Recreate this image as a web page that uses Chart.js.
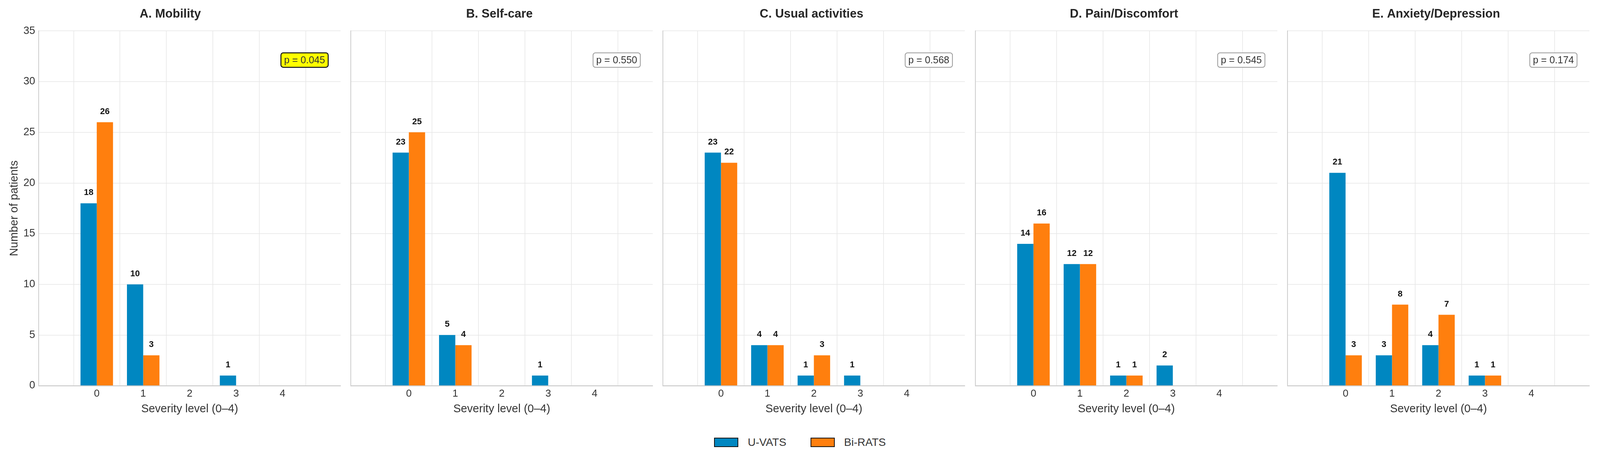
<!DOCTYPE html>
<html>
<head>
<meta charset="utf-8">
<script src="https://cdn.jsdelivr.net/npm/chart.js@4.4.1/dist/chart.umd.min.js"></script>
<style>
  html, body { margin: 0; padding: 0; background: #fff; }
  body { position: relative; overflow: hidden; font-family: "Liberation Sans", Arial, sans-serif; }
  .panel { position: absolute; top: 0; }
  #legend { position: absolute; top: 1116px; left: 0; display: flex;
            justify-content: center; align-items: center; font-size: 28px; color: #333; }
  .item { display: flex; align-items: center; margin: 0 31px; }
  .sw { width: 58px; height: 20px; border: 2px solid #111; margin-right: 24px; }
</style>
</head>
<body>
<div id="legend">
  <div class="item"><div class="sw" style="background:#0087c1"></div>U-VATS</div>
  <div class="item"><div class="sw" style="background:#ff7f0e"></div>Bi-RATS</div>
</div>
<script>
const severity = [0, 1, 2, 3, 4];
const panelTitles = ["A. Mobility", "B. Self-care", "C. Usual activities", "D. Pain/Discomfort", "E. Anxiety/Depression"];
const uvats = [
  [18, 10, 0, 1, 0],
  [23, 5, 0, 1, 0],
  [23, 4, 1, 1, 0],
  [14, 12, 1, 2, 0],
  [21, 3, 4, 1, 0]
];
const birats = [
  [26, 3, 0, 0, 0],
  [25, 4, 0, 0, 0],
  [22, 4, 3, 0, 0],
  [16, 12, 1, 0, 0],
  [3, 8, 7, 1, 0]
];
const pValues = ["0.045", "0.550", "0.568", "0.545", "0.174"];

const FONT = '"Liberation Sans", Arial, sans-serif';
// the window may be narrower than the 4382 px design, so spread the panels over what we get
const W = window.innerWidth || 4382;
const sx = W / 4382;
document.body.style.width = W + "px";
document.body.style.height = "1172px";
document.getElementById("legend").style.width = W + "px";

const panelLeft = [106, 961, 1816, 2671, 3526].map(v => v * sx);
const plotW = 827 * sx;

// numbers above the bars
const valueLabels = {
  id: "valueLabels",
  afterDatasetsDraw(chart) {
    const ctx = chart.ctx;
    ctx.save();
    ctx.font = "bold 22px " + FONT;
    ctx.fillStyle = "#111";
    ctx.textAlign = "center";
    ctx.textBaseline = "middle";
    chart.data.datasets.forEach((ds, di) => {
      chart.getDatasetMeta(di).data.forEach((bar, k) => {
        const v = ds.data[k].y;
        if (v > 0) ctx.fillText(String(v), bar.x, bar.y - 27);
      });
    });
    ctx.restore();
  }
};

// p-value box in the top right corner
const pBox = {
  id: "pBox",
  afterDraw(chart, args, opts) {
    const { ctx, chartArea } = chart;
    ctx.save();
    ctx.font = "25px " + FONT;
    const tw = ctx.measureText(opts.text).width;
    const w = tw + 16, h = 37;
    const x = chartArea.right - 34 * sx - w, y = chartArea.top + 56;
    ctx.beginPath();
    ctx.roundRect(x, y, w, h, 6);
    ctx.fillStyle = opts.highlight ? "#ffff00" : "#ffffff";
    ctx.fill();
    ctx.lineWidth = opts.highlight ? 2.5 : 2;
    ctx.strokeStyle = opts.highlight ? "#111" : "#999";
    ctx.stroke();
    ctx.fillStyle = "#333";
    ctx.textAlign = "center";
    ctx.textBaseline = "middle";
    ctx.fillText(opts.text, x + w / 2, y + h / 2 + 1);
    ctx.restore();
  }
};

panelTitles.forEach((title, i) => {
  const first = i === 0;
  const axisW = first ? 106 * sx : 12;
  const w = Math.round(axisW * 2 + plotW);
  const wrap = document.createElement("div");
  wrap.className = "panel";
  wrap.style.left = (panelLeft[i] - axisW) + "px";
  wrap.style.zIndex = 10 - i;
  const canvas = document.createElement("canvas");
  canvas.width = w;
  canvas.height = 1080;
  canvas.style.width = w + "px";
  canvas.style.height = "1080px";
  wrap.appendChild(canvas);
  document.body.appendChild(wrap);

  new Chart(canvas, {
    type: "bar",
    data: {
      datasets: [
        {
          label: "U-VATS",
          data: severity.map((s, k) => ({ x: s, y: uvats[i][k] })),
          backgroundColor: "#0087c1",
          categoryPercentage: 0.7,
          barPercentage: 1.0
        },
        {
          label: "Bi-RATS",
          data: severity.map((s, k) => ({ x: s, y: birats[i][k] })),
          backgroundColor: "#ff7f0e",
          categoryPercentage: 0.7,
          barPercentage: 1.0
        }
      ]
    },
    options: {
      responsive: false,
      animation: false,
      devicePixelRatio: 1,
      layout: { padding: { left: 0, right: axisW, top: 0, bottom: 0 } },
      plugins: {
        legend: { display: false },
        tooltip: { enabled: false },
        title: {
          display: true,
          text: title,
          color: "#262626",
          font: { size: 31, weight: "bold", family: FONT },
          padding: { top: 18, bottom: 24 }
        },
        pBox: { text: "p = " + pValues[i], highlight: parseFloat(pValues[i]) < 0.05 }
      },
      scales: {
        x: {
          type: "linear",
          min: -0.6,
          max: 4.6,
          afterBuildTicks: (scale) => { scale.ticks = severity.map(v => ({ value: v })); },
          afterFit: (scale) => { scale.height = 93; },
          grid: { color: "#e6e6e6", lineWidth: 1.5, drawTicks: false },
          border: { display: true, color: "#cccccc", width: 2.5 },
          ticks: { color: "#333", padding: 5, font: { size: 26, family: FONT } },
          title: {
            display: true,
            text: "Severity level (0–4)",
            color: "#333",
            font: { size: 29, family: FONT },
            padding: { top: 4, bottom: 16 }
          }
        },
        y: {
          min: 0,
          max: 35,
          afterFit: (scale) => { scale.width = axisW; },
          grid: { color: "#e6e6e6", lineWidth: 1.5, drawTicks: false },
          border: { display: true, color: "#cccccc", width: 2 },
          ticks: { display: first, stepSize: 5, color: "#333", padding: 9, font: { size: 27, family: FONT } },
          title: {
            display: first,
            text: "Number of patients",
            color: "#333",
            font: { size: 29, family: FONT },
            padding: { top: 20, bottom: 0 }
          }
        }
      }
    },
    plugins: [valueLabels, pBox]
  });
});
</script>
</body>
</html>
